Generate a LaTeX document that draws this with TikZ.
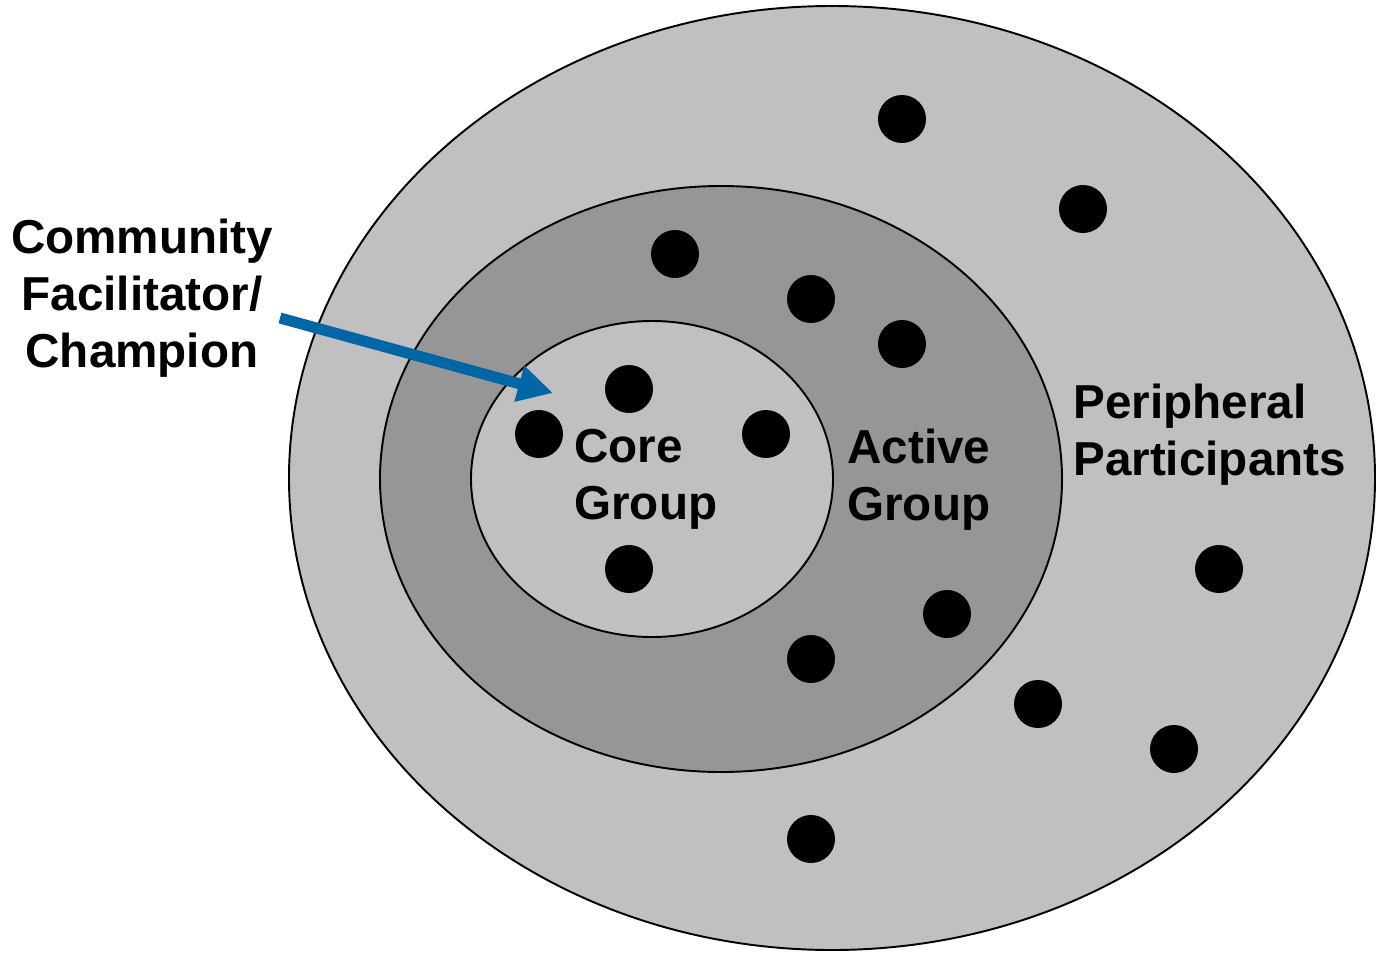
\documentclass[tikz,border=0pt]{standalone}
\usepackage{fontspec}
\setmainfont{Liberation Sans}
\usetikzlibrary{arrows.meta}

\definecolor{ringlight}{RGB}{192,192,192}
\definecolor{ringdark}{RGB}{150,150,150}
\definecolor{arrowblue}{RGB}{0,102,166}

\tikzset{
	ring/.style={draw=black,line width=1.1pt},
	label/.style={inner sep=0pt,font=\bfseries\fontsize{27.1}{32.4}\selectfont},
	member/.style={fill=black}
}

\begin{document}
\begin{tikzpicture}[x=0.02cm,y=-0.02cm]
					\useasboundingbox (0,0) rectangle (1376,953);

					% the three rings
					\draw[ring,fill=ringlight] (832,478) ellipse [x radius=543, y radius=472];
					\draw[ring,fill=ringdark] (721,479) ellipse [x radius=341, y radius=293];
					\draw[ring,fill=ringlight] (652,479) ellipse [x radius=181, y radius=158];

					% members
					\foreach \x/\y in {902/119,1083/209,675/254,811/299,902/344,629/389,539/434,766/434,
						629/569,947/614,811/659,1219/569,1038/704,1174/749,811/839}
					{
						\fill[member] (\x,\y) circle (24);
					}

					\node[label,anchor=north west,align=left] (core) at (574,429) {Core\\Group};
					\node[label,anchor=north west,align=left] (active) at (847,429) {Active\\Group};
					\node[label,anchor=north west,align=left] (peripheral) at (1073,384) {Peripheral\\Participants};
					\node[label,anchor=north,align=center] (champion) at (142,219) {Community\\Facilitator/\\Champion};

					\coordinate (arrow start) at (280,318);
					\coordinate (arrow end) at (553,393);
					\draw[arrowblue,line width=0.22cm,-{Triangle[length=0.7cm,width=0.7cm]}] (arrow start)--(arrow end);
				\end{tikzpicture}
\end{document}
